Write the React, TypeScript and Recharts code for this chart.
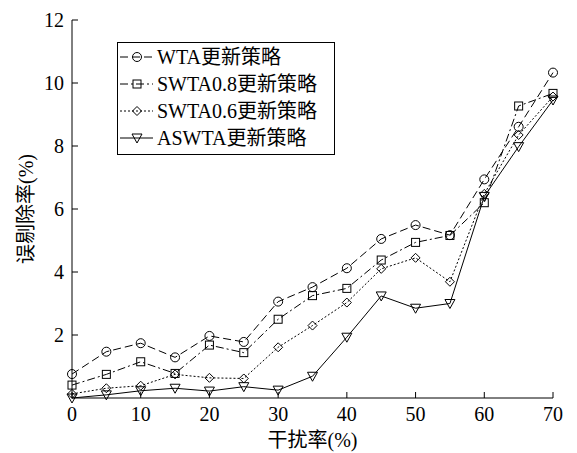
import React from 'react';
import { LineChart, Line, XAxis, YAxis, Legend } from 'recharts';

// 干扰率 (%)
const xValues = [0, 5, 10, 15, 20, 25, 30, 35, 40, 45, 50, 55, 60, 65, 70];
const wta = [0.76, 1.47, 1.74, 1.29, 1.97, 1.78, 3.06, 3.52, 4.12, 5.05, 5.49, 5.17, 6.94, 8.61, 10.33];
const swta08 = [0.41, 0.75, 1.15, 0.78, 1.68, 1.44, 2.5, 3.25, 3.48, 4.38, 4.94, 5.16, 6.2, 9.27, 9.67];
const swta06 = [0.13, 0.31, 0.39, 0.75, 0.64, 0.62, 1.61, 2.3, 3.03, 4.1, 4.45, 3.69, 6.48, 8.35, 9.57];
const aswta = [0.0, 0.1, 0.23, 0.31, 0.22, 0.36, 0.25, 0.69, 1.93, 3.24, 2.85, 3.0, 6.4, 7.98, 9.46];

const xTicks = [0, 10, 20, 30, 40, 50, 60, 70];
const yTicks = [2, 4, 6, 8, 10, 12];
const seriesNames = ['WTA更新策略', 'SWTA0.8更新策略', 'SWTA0.6更新策略', 'ASWTA更新策略'];

const chartData = xValues.map((x, i) => ({
  x,
  wta: wta[i],
  swta08: swta08[i],
  swta06: swta06[i],
  aswta: aswta[i],
}));

const FONT = '"Liberation Serif", "Noto Sans CJK SC", serif';

type Shape = 'circle' | 'square' | 'diamond' | 'triangle';

const marker = (shape: Shape, cx: number, cy: number, key?: string) => {
  const common = { fill: 'none', stroke: '#000', strokeWidth: 1 };
  if (shape === 'circle') return <circle key={key} cx={cx} cy={cy} r={4.5} {...common} />;
  if (shape === 'square') return <rect key={key} x={cx - 4} y={cy - 4} width={8} height={8} {...common} />;
  if (shape === 'diamond')
    return <polygon key={key} points={`${cx},${cy - 4.5} ${cx + 4.5},${cy} ${cx},${cy + 4.5} ${cx - 4.5},${cy}`} {...common} />;
  return <polygon key={key} points={`${cx - 5},${cy - 4} ${cx + 5},${cy - 4} ${cx},${cy + 5}`} {...common} />;
};

const dotFor = (shape: Shape) => (p: any) => marker(shape, p.cx, p.cy, `${shape}-${p.index}`);

const styles: { key: string; shape: Shape; dash?: string }[] = [
  { key: 'wta', shape: 'circle', dash: '8 4' },
  { key: 'swta08', shape: 'square', dash: '8 3 2 3' },
  { key: 'swta06', shape: 'diamond', dash: '2 2' },
  { key: 'aswta', shape: 'triangle' },
];

const renderLegend = () => (
  <svg width={218} height={113} style={{ display: 'block' }}>
    <rect x={0.5} y={0.5} width={217} height={112} fill="#fff" stroke="#000" />
    {styles.map((s, i) => {
      const y = 15 + i * 27;
      return (
        <g key={s.key}>
          <line x1={3} y1={y} x2={36} y2={y} stroke="#000" strokeDasharray={s.dash} />
          {marker(s.shape, 20, y)}
          <text x={40} y={y + 7} fontSize={20} fontFamily={FONT} fill="#000">
            {seriesNames[i]}
          </text>
        </g>
      );
    })}
  </svg>
);

export default function App() {
  const tickStyle = { fontSize: 20, fontFamily: FONT, fill: '#000' };
  return (
    <div style={{ position: 'absolute', left: 0, top: 0, background: '#fff' }}>
      <LineChart width={577} height={453} data={chartData} margin={{ top: 20, right: 24, left: 0, bottom: 0 }}>
        <XAxis
          dataKey="x"
          type="number"
          domain={[0, 70]}
          ticks={xTicks}
          height={55}
          tickSize={-6}
          tickMargin={15}
          tick={tickStyle}
          axisLine={{ stroke: '#000' }}
          tickLine={{ stroke: '#000' }}
          label={{ value: '干扰率(%)', position: 'insideBottom', offset: 6, style: { fontSize: 20, fontFamily: FONT, fill: '#000' } }}
        />
        <XAxis
          xAxisId="top"
          orientation="top"
          type="number"
          domain={[0, 70]}
          ticks={[10, 20, 30, 40, 50, 60]}
          height={0}
          tickSize={-6}
          tick={false}
          axisLine={{ stroke: '#000' }}
          tickLine={{ stroke: '#000' }}
        />
        <YAxis
          type="number"
          domain={[0, 12]}
          ticks={yTicks}
          width={72}
          tickSize={-6}
          tickMargin={14}
          tick={tickStyle}
          axisLine={{ stroke: '#000' }}
          tickLine={{ stroke: '#000' }}
          label={{ value: '误剔除率(%)', angle: -90, position: 'insideLeft', offset: 26, style: { textAnchor: 'middle', fontSize: 20, fontFamily: FONT, fill: '#000' } }}
        />
        <YAxis
          yAxisId="right"
          orientation="right"
          type="number"
          domain={[0, 12]}
          ticks={[2, 4, 6, 8, 10]}
          width={0}
          tickSize={-6}
          tick={false}
          axisLine={{ stroke: '#000' }}
          tickLine={{ stroke: '#000' }}
        />
        <Legend
          layout="horizontal"
          verticalAlign="middle"
          align="center"
          content={renderLegend}
          wrapperStyle={{ left: 117, top: 42, right: 'auto', bottom: 'auto', width: 218, height: 113 }}
        />
        {styles.map((s, i) => (
          <Line
            key={s.key}
            dataKey={s.key}
            name={seriesNames[i]}
            type="linear"
            stroke="#000"
            strokeWidth={1}
            strokeDasharray={s.dash}
            dot={dotFor(s.shape)}
            activeDot={false}
            isAnimationActive={false}
          />
        ))}
      </LineChart>
    </div>
  );
}
